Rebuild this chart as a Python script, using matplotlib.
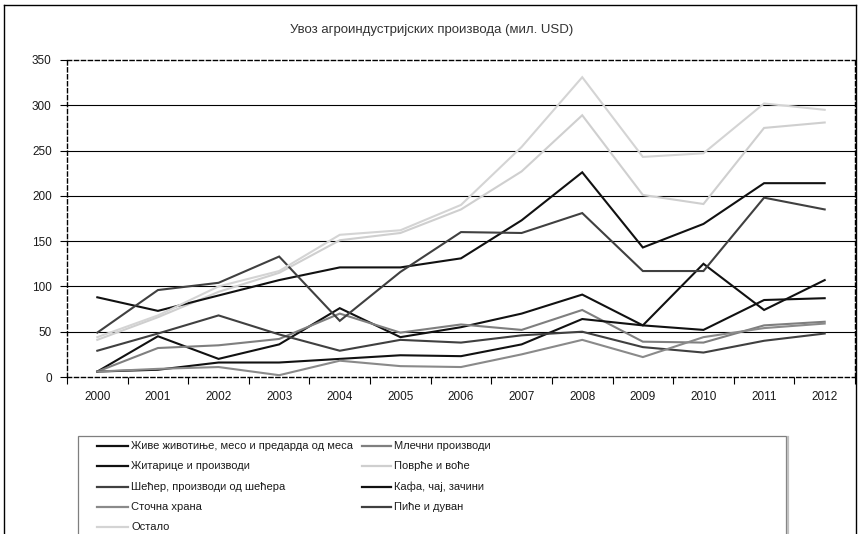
import matplotlib
matplotlib.use('Agg')
import matplotlib.pyplot as plt
from matplotlib.lines import Line2D
from matplotlib.patches import Rectangle
from matplotlib.ticker import FixedLocator, NullFormatter, FixedFormatter

# ---------------- data ----------------
years = ['2000', '2001', '2002', '2003', '2004', '2005', '2006',
         '2007', '2008', '2009', '2010', '2011', '2012']

zhive = [6, 45, 20, 36, 76, 44, 55, 70, 91, 57, 52, 85, 87]
mlecni = [6, 32, 35, 42, 70, 49, 58, 52, 74, 39, 38, 57, 61]
zitarice = [6, 8, 16, 16, 20, 24, 23, 36, 64, 57, 125, 74, 107]
povrce = [41, 66, 94, 115, 151, 159, 185, 227, 289, 201, 191, 275, 281]
secer = [29, 48, 68, 47, 29, 41, 38, 46, 50, 33, 27, 40, 48]
kafa = [88, 73, 90, 107, 121, 121, 131, 173, 226, 143, 169, 214, 214]
stocna = [6, 9, 11, 2, 18, 12, 11, 25, 41, 22, 44, 54, 59]
pice = [49, 96, 104, 133, 62, 116, 160, 159, 181, 117, 117, 198, 185]
ostalo = [44, 68, 100, 117, 157, 162, 190, 254, 331, 243, 247, 302, 295]

labels = ['Живе животиње, месо и предарда од меса', 'Млечни производи',
          'Житарице и производи', 'Поврће и воће',
          'Шећер, производи од шећера', 'Кафа, чај, зачини',
          'Сточна храна', 'Пиће и дуван', 'Остало']
series = [zhive, mlecni, zitarice, povrce, secer, kafa, stocna, pice, ostalo]
colors = ['#111111', '#7f7f7f', '#111111', '#cfcfcf', '#404040',
          '#111111', '#8a8a8a', '#404040', '#d4d4d4']

title = 'Увоз агроиндустријских производа (мил. USD)'
yticks = [0, 50, 100, 150, 200, 250, 300, 350]

# ---------------- figure ----------------
W, H = 864, 534
FONT = ['Liberation Sans', 'DejaVu Sans']
plt.rcParams['font.family'] = FONT

fig = plt.figure(figsize=(W / 100, H / 100), dpi=100)
fig.patch.set_facecolor('white')


def fx(px):
    return px / W


def fy(py):
    return 1 - py / H


L, R, T, B = 67, 855, 60, 377
ax = fig.add_axes([fx(L), fy(B), (R - L) / W, (B - T) / H])

xs = list(range(len(years)))
for vals, col in zip(series, colors):
    ax.plot(xs, vals, color=col, lw=1.5, solid_joinstyle='miter', zorder=3)

ax.set_xlim(-0.5, len(years) - 0.5)
ax.set_ylim(0, 350)

for v in yticks[1:-1]:
    ax.axhline(v, color='#000000', lw=0.8, zorder=1)

for s in ax.spines.values():
    s.set_linestyle((0, (3, 2)))
    s.set_color('#000000')
    s.set_linewidth(1.0)

ax.xaxis.set_major_locator(FixedLocator([i - 0.5 for i in range(len(years) + 1)]))
ax.xaxis.set_major_formatter(NullFormatter())
ax.xaxis.set_minor_locator(FixedLocator(xs))
ax.xaxis.set_minor_formatter(FixedFormatter(years))
ax.tick_params(axis='x', which='major', length=5, width=0.8, color='#000000', direction='out')
ax.tick_params(axis='x', which='minor', length=0, pad=10, labelsize=8.5, labelcolor='#1a1a1a')

ax.set_yticks(yticks)
ax.set_yticklabels([str(v) for v in yticks])
ax.tick_params(axis='y', length=5, width=0.8, color='#000000', direction='out',
               pad=6, labelsize=8.5, labelcolor='#1a1a1a')

fig.text(fx(432), fy(30), title, ha='center', va='center', fontsize=9.5,
         color='#333333')

# outer chart frame
fig.add_artist(Line2D([fx(4), fx(4)], [fy(5), fy(560)], color='#000000', lw=1.0))
fig.add_artist(Line2D([fx(4), fx(856)], [fy(5), fy(5)], color='#000000', lw=1.0))
fig.add_artist(Line2D([fx(856), fx(856)], [fy(5), fy(560)], color='#000000', lw=1.0))

# legend box
fig.add_artist(Rectangle((fx(78), fy(600)), (786 - 78) / W, (600 - 436) / H,
                         transform=fig.transFigure, facecolor='white',
                         edgecolor='#7f7f7f', lw=0.9))
fig.add_artist(Line2D([fx(787.5), fx(787.5)], [fy(437), fy(600)], color='#c0c0c0', lw=1.6))

rows_y = [446, 466, 486.5, 506.5, 527]
col_x = [(97, 128, 131), (362, 391, 394)]
order = [0, 2, 4, 6, 8, 1, 3, 5, 7]
for k, idx in enumerate(order):
    c = 0 if k < 5 else 1
    r = k if k < 5 else k - 5
    x0, x1, xt = col_x[c]
    y = rows_y[r]
    fig.add_artist(Line2D([fx(x0), fx(x1)], [fy(y), fy(y)], color=colors[idx], lw=1.6))
    fig.text(fx(xt), fy(y), labels[idx], ha='left', va='center', fontsize=8,
             color='#1a1a1a')

fig.savefig('out.png', dpi=100, facecolor='white')
